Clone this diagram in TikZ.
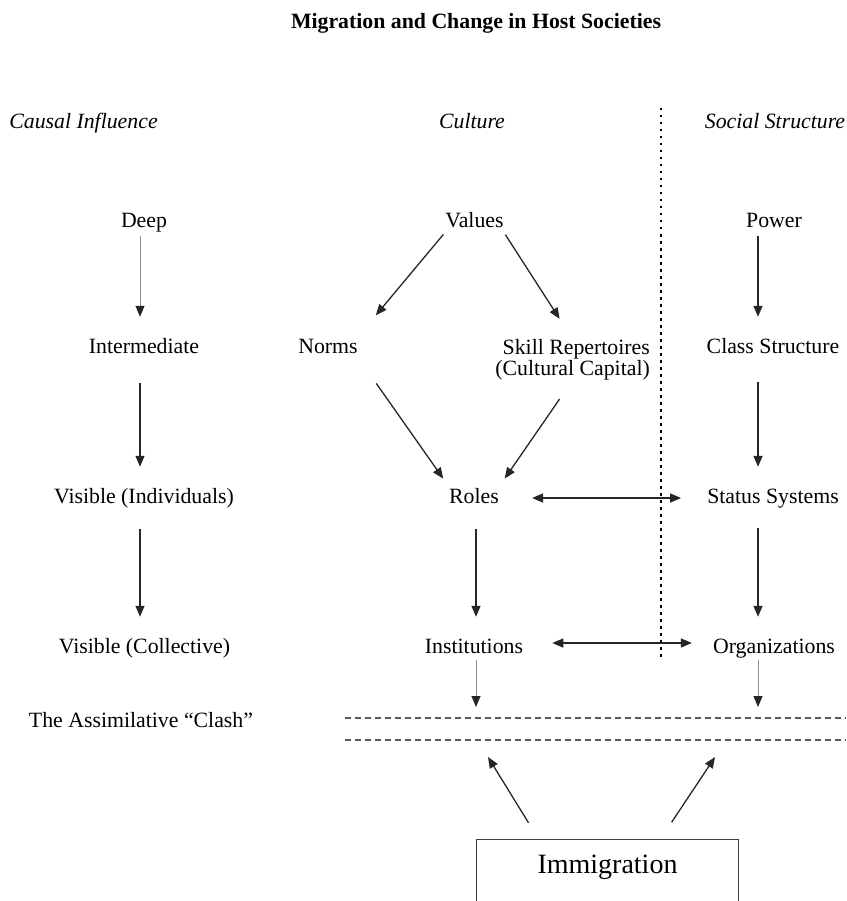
\documentclass[tikz,border=0pt]{standalone}
\usepackage{fontspec}
\setmainfont{Liberation Serif}
\usetikzlibrary{arrows.meta}
\tikzset{
    lbl/.style = {inner sep=0pt, text height=16pt, text depth=4pt},
    colhead/.style = {lbl, font=\fontsize{21.8}{21}\selectfont\itshape},
    twoline/.style = {inner sep=0pt, align=right},
    immbox/.style = {draw=black!75, line width=1.2pt, inner sep=0pt, minimum width=262pt, text height=34pt, text depth=40pt, font=\fontsize{28}{30}\selectfont},
    arr/.style = {->, line width=1.3pt, draw=black!85},
    faint/.style = {-{Triangle[length=11pt,width=9pt,color=black!85]}, line width=1pt, draw=black!45},
    clashline/.style = {line width=1.4pt, draw=black!65, dash pattern=on 6pt off 4pt},
    divider/.style = {line width=2.3pt, dash pattern=on 2.5pt off 4.5pt}
}

\begin{document}
\begin{tikzpicture}
            [x=1pt, y=-1pt,
            font=\fontsize{21.8}{21}\selectfont,
            >={Triangle[length=11pt,width=9pt]}]

            \path[use as bounding box, clip] (0,0) rectangle (846,901);

            % headings
            \node[lbl, font=\fontsize{21.8}{21}\selectfont\bfseries] (title) at (476,23) {Migration and Change in Host Societies};
            \node[colhead] (hcause) at (83.5,123) {Causal Influence};
            \node[colhead] (hculture) at (472,123) {Culture};
            \node[colhead] (hsocial) at (775,123) {Social Structure};

            % left column
            \node[lbl] (deep) at (144,222) {Deep};
            \node[lbl] (inter) at (144,347) {Intermediate};
            \node[lbl] (visind) at (144,497) {Visible (Individuals)};
            \node[lbl] (viscol) at (144.5,647) {Visible (Collective)};
            \node[lbl] (clashlbl) at (141,721) {The Assimilative “Clash”};

            % culture
            \node[lbl] (values) at (474.5,222) {Values};
            \node[lbl] (norms) at (328,347) {Norms};
            \node[twoline, anchor=north east] (skill) at (650,339) {Skill Repertoires\\(Cultural Capital)};
            \node[lbl] (roles) at (474,497) {Roles};
            \node[lbl] (inst) at (474,647) {Institutions};

            % social structure
            \node[lbl] (power) at (774,222) {Power};
            \node[lbl] (class) at (773,347) {Class Structure};
            \node[lbl] (status) at (773,497) {Status Systems};
            \node[lbl] (org) at (774,647) {Organizations};

            \node[immbox, anchor=north] (immig) at (607.5,839) {Immigration};

            \coordinate (colL) at (140,0);
            \coordinate (colM) at (476,0);
            \coordinate (colR) at (758,0);
            \coordinate (divTop) at (661,108);
            \coordinate (divBot) at (661,660);
            \coordinate (clashTL) at (345,718);
            \coordinate (clashTR) at (846,718);
            \coordinate (clashBL) at (345,740);
            \coordinate (clashBR) at (846,740);
            \coordinate (intoL) at (488,757);
            \coordinate (intoR) at (715,757);

            \draw[divider] (divTop) -- (divBot);
            \draw[clashline] (clashTL) -- (clashTR);
            \draw[clashline] (clashBL) -- (clashBR);

            % vertical arrows
            \draw[faint, shorten <=4pt, shorten >=20pt] (deep.south -| colL) -- (inter.north -| colL);
            \draw[arr, shorten <=26pt, shorten >=20pt] (inter.south -| colL) -- (visind.north -| colL);
            \draw[arr, shorten <=22pt, shorten >=20pt] (visind.south -| colL) -- (viscol.north -| colL);
            \draw[arr, shorten <=4pt, shorten >=20pt] (power.south -| colR) -- (class.north -| colR);
            \draw[arr, shorten <=25pt, shorten >=20pt] (class.south -| colR) -- (status.north -| colR);
            \draw[arr, shorten <=21pt, shorten >=20pt] (status.south -| colR) -- (org.north -| colR);
            \draw[arr, shorten <=22pt, shorten >=20pt] (roles.south -| colM) -- (inst.north -| colM);
            \draw[faint, shorten <=3pt, shorten >=11pt] (inst.south -| colM) -- (clashTL -| colM);
            \draw[faint, shorten <=3pt, shorten >=11pt] (org.south -| colR) -- (clashTL -| colR);

            % culture arrows
            \draw[arr, shorten <=3pt, shorten >=28pt] (values.south west) -- (norms.north east);
            \draw[arr, shorten <=3pt, shorten >=24pt] (values.south east) -- (skill.north);
            \draw[arr, shorten <=32pt, shorten >=10pt] (norms.south east) -- (roles.north west);
            \draw[arr, shorten <=23pt, shorten >=10pt] (skill.south) -- (roles.north east);

            % across the divide
            \draw[arr, <->, shorten <=33pt, shorten >=26pt] ([yshift=-1pt]roles.east) -- ([yshift=-1pt]status.west);
            \draw[arr, <->, shorten <=29pt, shorten >=21pt] ([yshift=4pt]inst.east) -- ([yshift=4pt]org.west);

            % immigration
            \draw[arr, shorten <=19pt] ([xshift=-69pt]immig.north) -- (intoL);
            \draw[arr, shorten <=20pt] ([xshift=53pt]immig.north) -- (intoR);
        \end{tikzpicture}
\end{document}
